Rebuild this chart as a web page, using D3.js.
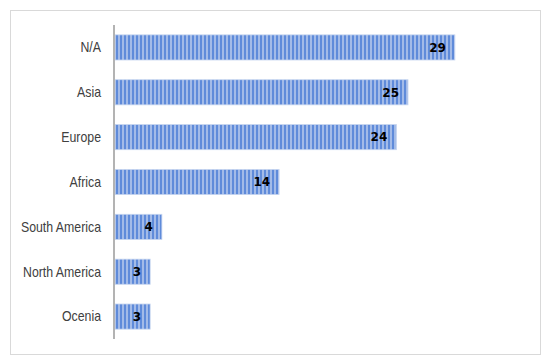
<!DOCTYPE html>
<html>
<head>
<meta charset="utf-8">
<script src="https://cdn.jsdelivr.net/npm/d3@7"></script>
<style>
  html, body { margin: 0; padding: 0; background: #fff; }
  svg { display: block; }
</style>
</head>
<body>
<svg id="chart" width="550" height="362"></svg>
<script>
const regions = ['N/A', 'Asia', 'Europe', 'Africa', 'South America', 'North America', 'Ocenia'];
const counts = [29, 25, 24, 14, 4, 3, 3];

const width = 550, height = 362;
const svg = d3.select('#chart');

// stripy blue fill like the original
const defs = svg.append('defs');
const pat = defs.append('pattern')
  .attr('id', 'stripes')
  .attr('patternUnits', 'userSpaceOnUse')
  .attr('width', 4)
  .attr('height', 10);
pat.append('rect').attr('width', 4).attr('height', 10).attr('fill', '#a3bbe8');
pat.append('rect').attr('x', 0).attr('width', 2).attr('height', 10).attr('fill', '#5f8bda');

// outer frame
svg.append('rect')
  .attr('x', 10.5).attr('y', 10.5)
  .attr('width', 530).attr('height', 344)
  .attr('fill', 'none')
  .attr('stroke', '#d9d9d9')
  .attr('stroke-width', 1);

const x = d3.scaleLinear()
  .domain([0, 30])
  .range([115, 115 + 30 * 11.72]);

const y = d3.scaleBand()
  .domain(regions)
  .range([25, 339])
  .paddingInner(0.44)
  .paddingOuter(0.22);

svg.selectAll('rect.bar')
  .data(regions)
  .join('rect')
  .attr('class', 'bar')
  .attr('x', x(0))
  .attr('y', d => y(d))
  .attr('width', (d, i) => x(counts[i]) - x(0))
  .attr('height', y.bandwidth())
  .attr('fill', 'url(#stripes)')
  .attr('stroke', '#c5d4ef')
  .attr('stroke-width', 0.8);

// category labels (slightly condensed, as in the original)
const labelX = 101, squeeze = 0.88;
svg.selectAll('text.cat')
  .data(regions)
  .join('text')
  .attr('class', 'cat')
  .attr('transform', d => `translate(${labelX},${y(d) + y.bandwidth() / 2}) scale(${squeeze},1)`)
  .attr('dy', '0.35em')
  .attr('text-anchor', 'end')
  .attr('font-family', 'Liberation Sans, Arial, sans-serif')
  .attr('font-size', 14)
  .attr('fill', '#404040')
  .text(d => d);

// value labels
svg.selectAll('text.val')
  .data(regions)
  .join('text')
  .attr('class', 'val')
  .attr('x', (d, i) => x(counts[i]) - 9)
  .attr('y', d => y(d) + y.bandwidth() / 2)
  .attr('dy', '0.36em')
  .attr('text-anchor', 'end')
  .attr('font-family', 'DejaVu Sans, sans-serif')
  .attr('font-weight', 'bold')
  .attr('font-size', 12)
  .attr('fill', '#000')
  .text((d, i) => counts[i]);

// vertical axis line
svg.append('line')
  .attr('x1', 114).attr('x2', 114)
  .attr('y1', 25).attr('y2', 339)
  .attr('stroke', '#b3b3b3')
  .attr('stroke-width', 2);
</script>
</body>
</html>
